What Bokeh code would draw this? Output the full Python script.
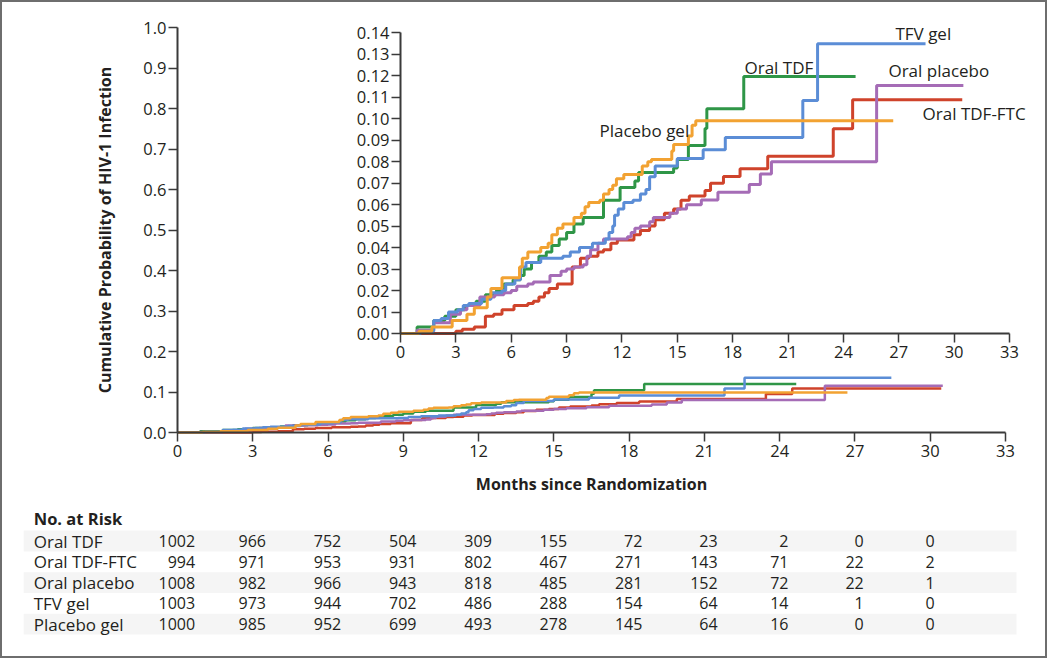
from bokeh.plotting import figure
from bokeh.models import Range1d, LinearAxis, FixedTicker, NumeralTickFormatter, ColumnDataSource
from bokeh.core.properties import value
from bokeh.embed import file_html
from bokeh.resources import INLINE

# ---------------- data ----------------
groups = ["Oral TDF", "Oral TDF-FTC", "Oral placebo", "TFV gel", "Placebo gel"]

# Oral TDF (green)
tdf_t = [0, 0.9, 1.8, 2.4, 3.0, 3.5, 4.1, 4.6, 5.2, 5.6, 6.1, 6.5, 6.7, 7.1, 7.5, 7.9, 8.2, 8.6, 9.0, 9.4,
         9.9, 11.0, 11.9, 12.7, 12.9, 14.8, 15.0, 15.6, 16.5, 16.6, 18.6, 24.66]
tdf_p = [0, 0.003, 0.006, 0.008, 0.011, 0.013, 0.015, 0.018, 0.020, 0.023, 0.025, 0.027, 0.030, 0.033, 0.036,
         0.038, 0.041, 0.044, 0.047, 0.051, 0.054, 0.062, 0.068, 0.071, 0.075, 0.077, 0.081, 0.0875, 0.0955,
         0.1046, 0.1196, 0.1196]

# Oral TDF-FTC (red)
ftc_t = [0, 3.0, 3.35, 4.0, 4.6, 5.05, 5.5, 6.15, 6.9, 7.2, 7.5, 7.8, 8.05, 8.5, 9.3, 9.75, 10.2, 10.7, 11.0,
         11.4, 11.75, 12.65, 13.0, 13.5, 13.8, 14.3, 14.8, 15.2, 15.65, 16.5, 16.8, 17.5, 18.4, 19.9, 23.45,
         24.5, 30.44]
ftc_p = [0, 0.001, 0.002, 0.003, 0.008, 0.009, 0.011, 0.013, 0.014, 0.015, 0.017, 0.019, 0.021, 0.023, 0.031,
         0.035, 0.036, 0.038, 0.039, 0.042, 0.0435, 0.046, 0.048, 0.050, 0.053, 0.056, 0.058, 0.062, 0.064,
         0.0666, 0.070, 0.0731, 0.0767, 0.0825, 0.0953, 0.1088, 0.1088]

# Oral placebo (purple)
opl_t = [0, 0.9, 1.8, 2.7, 3.25, 3.6, 4.3, 5.1, 5.6, 6.0, 6.3, 6.9, 7.2, 8.1, 8.7, 9.0, 9.4, 9.9, 10.1, 10.3,
         10.7, 11.0, 12.3, 12.5, 12.7, 13.0, 13.5, 13.7, 14.6, 15.0, 15.5, 16.3, 17.2, 18.9, 19.5, 20.1, 25.8,
         30.5]
opl_p = [0, 0.0015, 0.005, 0.009, 0.011, 0.013, 0.017, 0.018, 0.019, 0.020, 0.022, 0.023, 0.024, 0.027, 0.029,
         0.030, 0.031, 0.032, 0.036, 0.039, 0.042, 0.044, 0.045, 0.047, 0.049, 0.050, 0.052, 0.054, 0.056,
         0.058, 0.060, 0.0622, 0.0658, 0.0694, 0.0743, 0.080, 0.1155, 0.1155]

# TFV gel (blue)
tfv_t = [0, 1.1, 1.8, 2.2, 2.6, 3.1, 3.4, 3.7, 4.4, 4.9, 5.5, 5.7, 6.2, 6.5, 6.8, 7.6, 8.8, 9.2, 9.7, 10.4,
         11.1, 11.3, 11.5, 11.6, 11.8, 12.1, 12.6, 13.0, 13.3, 13.5, 13.8, 15.0, 16.4, 17.6, 21.8, 22.6, 28.45]
tfv_p = [0, 0.001, 0.006, 0.007, 0.010, 0.011, 0.013, 0.014, 0.016, 0.019, 0.020, 0.023, 0.025, 0.031, 0.033,
         0.035, 0.036, 0.038, 0.040, 0.042, 0.044, 0.047, 0.050, 0.055, 0.058, 0.061, 0.062, 0.065, 0.067,
         0.073, 0.078, 0.0815, 0.0856, 0.0912, 0.1085, 0.1349, 0.1349]

# Placebo gel (orange)
gpl_t = [0, 1.0, 1.7, 2.8, 3.6, 4.0, 4.7, 4.9, 5.5, 6.45, 6.6, 6.9, 7.6, 8.0, 8.2, 8.5, 8.8, 9.4, 9.8, 10.0,
         10.2, 10.8, 11.0, 11.3, 11.5, 11.7, 12.1, 13.1, 13.4, 13.6, 14.7, 14.8, 15.6, 15.8, 16.0, 26.7]
gpl_p = [0, 0.001, 0.003, 0.006, 0.009, 0.012, 0.017, 0.021, 0.026, 0.031, 0.035, 0.038, 0.040, 0.042, 0.046,
         0.049, 0.051, 0.054, 0.056, 0.059, 0.061, 0.062, 0.065, 0.067, 0.069, 0.072, 0.074, 0.078, 0.080,
         0.081, 0.085, 0.088, 0.092, 0.097, 0.099, 0.099]

risk_months = [0, 3, 6, 9, 12, 15, 18, 21, 24, 27, 30]
risk_tdf = [1002, 966, 752, 504, 309, 155, 72, 23, 2, 0, 0]
risk_ftc = [994, 971, 953, 931, 802, 467, 271, 143, 71, 22, 2]
risk_opl = [1008, 982, 966, 943, 818, 485, 281, 152, 72, 22, 1]
risk_tfv = [1003, 973, 944, 702, 486, 288, 154, 64, 14, 1, 0]
risk_gpl = [1000, 985, 952, 699, 493, 278, 145, 64, 16, 0, 0]

x_ticks = [0, 3, 6, 9, 12, 15, 18, 21, 24, 27, 30, 33]
main_y_ticks = [0.0, 0.1, 0.2, 0.3, 0.4, 0.5, 0.6, 0.7, 0.8, 0.9, 1.0]
inset_y_ticks = [0.00, 0.01, 0.02, 0.03, 0.04, 0.05, 0.06, 0.07, 0.08, 0.09, 0.10, 0.11, 0.12, 0.13, 0.14]

# ---------------- style / layout ----------------
colors = {"Oral TDF": "#2f9647", "Oral TDF-FTC": "#cf432b", "Oral placebo": "#a56cb6",
          "TFV gel": "#5b8dd6", "Placebo gel": "#f2a232"}
FONT = "Open Sans"
INK = "#231f20"
AX = "#3a3a3a"
W, H = 1047, 658


def hrange(a, b, pa, pb, size):
    s = (pb - pa) / (b - a)
    start = a - pa / s
    return Range1d(start, start + size / s)


def vrange(a, b, pa, pb, size):
    # pa, pb pixels from top
    s = (pa - pb) / (b - a)
    end = b + pb / s
    return Range1d(end - size / s, end)


main_x = hrange(0, 33, 177, 1005, W)
main_y = vrange(0, 1.0, 432, 27, H)
ins_x = hrange(0, 33, 400, 1009, W)
ins_y = vrange(0, 0.14, 333, 32.3, H)
ROW0, ROWH = 540.5, 20.8
tbl_top = -ROW0 / ROWH
tbl_y = Range1d(tbl_top + H / ROWH, tbl_top)

p = figure(width=W, height=H, x_range=main_x, y_range=main_y, output_backend="svg",
           toolbar_location=None, min_border=0, x_axis_type=None, y_axis_type=None, title=None)
p.min_border_left = p.min_border_right = p.min_border_top = p.min_border_bottom = 0
p.extra_x_ranges = {"ix": ins_x}
p.extra_y_ranges = {"iy": ins_y, "tbl": tbl_y}
p.outline_line_color = "#6e6e6e"
p.outline_line_width = 3
p.background_fill_color = "white"
p.border_fill_color = "white"


def style_axis(ax, size="16.5px"):
    ax.axis_line_color = AX
    ax.axis_line_width = 2
    ax.major_tick_line_color = AX
    ax.major_tick_line_width = 1.5
    ax.major_tick_in = 0
    ax.major_tick_out = 9
    ax.minor_tick_line_color = None
    ax.major_label_text_font = FONT
    ax.major_label_text_font_size = size
    ax.major_label_text_color = INK
    ax.axis_label_text_font = FONT
    ax.axis_label_text_font_style = "bold"
    ax.axis_label_text_font_size = "16px"
    ax.axis_label_text_color = INK


# main axes
xax = LinearAxis(fixed_location=0, bounds=(0, 33), ticker=FixedTicker(ticks=x_ticks),
                 axis_label="Months since Randomization")
style_axis(xax)
xax.major_label_standoff = 3
xax.axis_label_standoff = 13
p.add_layout(xax, "below")

yax = LinearAxis(fixed_location=0, bounds=(0, 1), ticker=FixedTicker(ticks=main_y_ticks),
                 formatter=NumeralTickFormatter(format="0.0"),
                 axis_label="Cumulative Probability of HIV-1 Infection")
style_axis(yax)
yax.major_label_standoff = 2
yax.axis_label_standoff = 24
p.add_layout(yax, "left")

# inset axes
ixax = LinearAxis(x_range_name="ix", y_range_name="iy", fixed_location=0, bounds=(0, 33),
                  ticker=FixedTicker(ticks=x_ticks))
style_axis(ixax)
ixax.major_label_standoff = 3
p.add_layout(ixax, "below")

iyax = LinearAxis(x_range_name="ix", y_range_name="iy", fixed_location=0, bounds=(0, 0.14),
                  ticker=FixedTicker(ticks=inset_y_ticks), formatter=NumeralTickFormatter(format="0.00"))
style_axis(iyax)
iyax.major_label_standoff = 2
p.add_layout(iyax, "left")

# curves (drawing order: red, green, purple, blue, orange)
series = [("Oral TDF-FTC", ftc_t, ftc_p), ("Oral TDF", tdf_t, tdf_p), ("Oral placebo", opl_t, opl_p),
          ("TFV gel", tfv_t, tfv_p), ("Placebo gel", gpl_t, gpl_p)]
for name, t, pr in series:
    p.step(t, pr, mode="after", line_color=colors[name], line_width=2.5)
for name, t, pr in series:
    p.step(t, pr, mode="after", line_color=colors[name], line_width=3,
           x_range_name="ix", y_range_name="iy")

# inset curve labels
lab_names = ["TFV gel", "Oral TDF", "Oral placebo", "Oral TDF-FTC", "Placebo gel"]
lab_x = [26.82, 18.64, 26.44, 28.29, 10.78]
lab_y = [0.1399, 0.1240, 0.1224, 0.1024, 0.0945]
p.text(x=lab_x, y=lab_y, text=lab_names, x_range_name="ix", y_range_name="iy",
       text_font=value(FONT), text_font_size="17px", text_color=INK,
       text_align="left", text_baseline="middle")

# ---------------- number at risk table ----------------
risk_rows = [risk_tdf, risk_ftc, risk_opl, risk_tfv, risk_gpl]
BAND_L, BAND_R = -6.13, 33.44
LABEL_X = -5.73
p.hbar(y=[0, 2, 4], left=BAND_L, right=BAND_R, height=1, y_range_name="tbl",
       fill_color="#f5f5f5", line_color=None)
p.text(x=[LABEL_X], y=[-1.08], text=["No. at Risk"], y_range_name="tbl",
       text_font=value(FONT), text_font_size="16.5px", text_font_style="bold", text_color=INK,
       text_align="left", text_baseline="middle")
p.text(x=[LABEL_X] * len(groups), y=list(range(len(groups))), text=groups, y_range_name="tbl",
       text_font=value(FONT), text_font_size="17px", text_color=INK,
       text_align="left", text_baseline="middle")

DIGIT_PX = 8.8
xs, ys, txt, offs = [], [], [], []
for j, m in enumerate(risk_months):
    maxd = max(len(str(r[j])) for r in risk_rows)
    for i, r in enumerate(risk_rows):
        xs.append(m)
        ys.append(i)
        txt.append(str(r[j]))
        offs.append(maxd * DIGIT_PX / 2)
src = ColumnDataSource(dict(x=xs, y=ys, t=txt, o=offs))
p.text(x="x", y="y", text="t", x_offset="o", source=src, y_range_name="tbl",
       text_font=value(FONT), text_font_size="16px", text_color=INK,
       text_align="right", text_baseline="middle")

open("out.html", "w").write(file_html(p, INLINE))
